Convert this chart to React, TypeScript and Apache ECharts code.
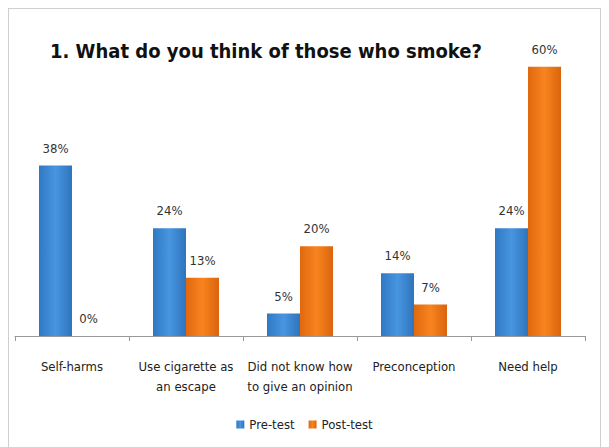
import React, { useEffect, useRef } from "react";
import * as echarts from "echarts";

const categories = [
  "Self-harms",
  "Use cigarette as\nan escape",
  "Did not know how\nto give an opinion",
  "Preconception",
  "Need help",
];
const preTest = [38, 24, 5, 14, 24];
const postTest = [0, 13, 20, 7, 60];
const seriesNames = ["Pre-test", "Post-test"];
const titleText = "1. What do you think of those who smoke?";

const FONT = "'DejaVu Sans Condensed', Roboto, sans-serif";

const blueGrad = new echarts.graphic.LinearGradient(0, 0, 1, 0, [
  { offset: 0, color: "#2f78c4" },
  { offset: 0.5, color: "#4895e0" },
  { offset: 1, color: "#2f74bd" },
]);
const orangeGrad = new echarts.graphic.LinearGradient(0, 0, 1, 0, [
  { offset: 0, color: "#e0680f" },
  { offset: 0.5, color: "#f8841f" },
  { offset: 1, color: "#d9640e" },
]);

export default function App() {
  const ref = useRef<HTMLDivElement>(null);
  useEffect(() => {
    if (!ref.current) return;
    const chart = echarts.init(ref.current, null, { renderer: "svg" });
    const labelCfg = {
      show: true,
      position: "top",
      distance: 11,
      formatter: "{c}%",
      color: "#333",
      fontSize: 13,
      fontFamily: FONT,
    };
    chart.setOption({
      animation: false,
      backgroundColor: "#fff",
      title: {
        text: titleText,
        left: 36,
        top: 27,
        textStyle: {
          fontSize: 20,
          fontWeight: "bold",
          color: "#111",
          fontFamily: FONT,
        },
      },
      legend: {
        data: seriesNames,
        bottom: 16,
        left: "center",
        icon: "rect",
        itemWidth: 8,
        itemHeight: 8,
        itemGap: 14,
        textStyle: { fontSize: 13, color: "#222", fontFamily: FONT },
      },
      grid: { left: 6, right: 15, top: 13, bottom: 116, containLabel: false },
      xAxis: {
        type: "category",
        data: categories,
        axisLine: { lineStyle: { color: "#999" } },
        axisTick: { show: true, length: 5, lineStyle: { color: "#999" } },
        axisLabel: {
          color: "#222",
          fontSize: 13,
          fontFamily: FONT,
          margin: 20,
          lineHeight: 20,
          interval: 0,
        },
      },
      yAxis: {
        type: "value",
        min: 0,
        max: 70,
        show: false,
        splitLine: { show: false },
      },
      series: [
        {
          name: seriesNames[0],
          type: "bar",
          data: preTest,
          barWidth: 33,
          barGap: "0%",
          itemStyle: { color: blueGrad },
          label: labelCfg,
        },
        {
          name: seriesNames[1],
          type: "bar",
          data: postTest,
          barWidth: 33,
          itemStyle: { color: orangeGrad },
          label: labelCfg,
        },
      ],
    });
    return () => chart.dispose();
  }, []);
  return (
    <div
      style={{
        width: 593,
        height: 445,
        border: "1px solid #cfcfcf",
        boxSizing: "border-box",
      }}
    >
      <div ref={ref} style={{ width: 591, height: 443 }} />
    </div>
  );
}
